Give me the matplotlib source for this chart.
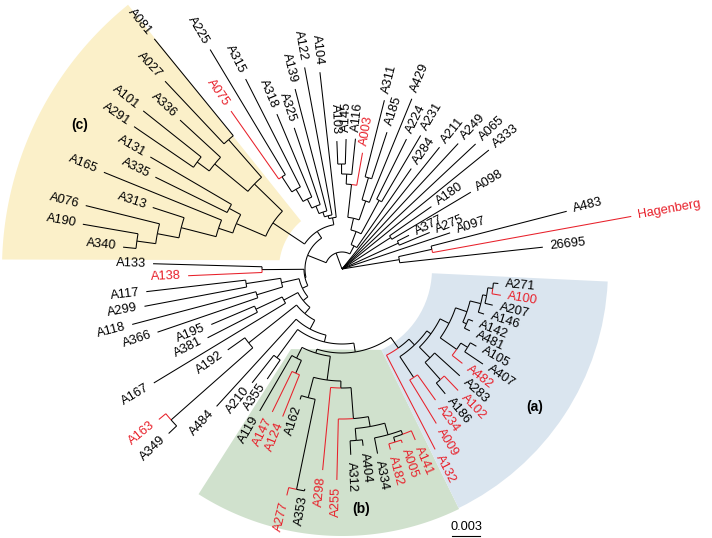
import re

import numpy as np
import matplotlib
matplotlib.use("Agg")
import matplotlib.pyplot as plt
from matplotlib.patches import Polygon, Wedge

# Node depths are distances from the root in tree units (28 units = 0.003 subs/site)
OUTGROUP = "(26695:202,(Hagenberg:294,A483:232):92):58"
BASAL = "A097:114,(A275:95,A377:75):62,(A098:150,A180:109):58,A333:189,A065:183,A249:171,A211:156"
UPPER = ("(A284:122,((A231:155,A224:145):78,((A429:184,(A185:144,A311:174):95):72,"
         "(A003:118,(A116:131,(A145:130,A103:128):105):95):85):52):40):26")
TOP = ("(A104:198,(A122:205,(A139:186,(A325:149,(A318:168,(A315:213,"
       "(A225:256,A075:193):110):92):78):68):60):55):52")
CLADE_C = ("(((A081:297,A027:258):172,(A336:220,(A101:254,A291:252):180):165):122,"
           "((A131:222,A335:208):128,(A165:257,(A313:199,(A076:264,(A190:263,A340:220):207):188):166):130):115):83")
CLADE_B = ("((A119:164,(A147:159,A124:159):114):100,((A162:137,(A277:233,A353:223):225):133,"
           "(A298:202,(A255:211,((A312:186,A404:178):172,(A334:188,((A182:187,A005:184):181,"
           "A141:186):176):172):160):150):119):112):88")
CLADE_A = ("(A132:203,((A009:181,A234:161):130,(((A186:162,A102:168):148,A283:159):125,"
           "((A482:153,(A407:170,A105:155):148):140,((A481:142,A142:141):136,"
           "(A146:149,(A207:155,(A100:161,A271:157):152):147):143):132):120):110):105):97")
LOWER = ("((A133:189,A138:154):80,(((A117:197,A299:201):97,(A118:217,A366:195):89):62,"
         "(((A195:142,A381:151):95,A167:220):66,((A192:140,(A163:237,A349:239):228):119,"
         "(A484:186,((A210:145,A355:133):110,(" + CLADE_B + "," + CLADE_A + "):84):75):68):58):50):44):38")
INGROUP = "(" + UPPER + ",((" + TOP + "," + CLADE_C + "):45," + LOWER + "):37):17"
TREE = "(" + OUTGROUP + "," + BASAL + "," + INGROUP + "):0"

RED_TIPS = ["Hagenberg", "A003", "A075", "A138", "A163", "A147", "A124", "A277", "A298",
            "A255", "A182", "A005", "A141", "A132", "A009", "A234", "A102", "A482", "A100"]

FIRST_ANGLE = 6.2   # degrees, first tip
ANGLE_STEP = 4.1    # degrees between neighbouring tips
LABEL_GAP = 7
SCALE_BAR = 0.003
UNITS_PER_SUB = 28 / 0.003

RED = "#e8202a"
YELLOW = "#fbf0c9"
BLUE = "#dae5ef"
GREEN = "#d0e1cd"


def parse_newick(s):
    pos = 0

    def node():
        nonlocal pos
        children = []
        if s[pos] == "(":
            pos += 1
            children.append(node())
            while s[pos] == ",":
                pos += 1
                children.append(node())
            pos += 1  # ')'
        m = re.match(r"([^:,()]*)(?::([\d.]+))?", s[pos:])
        pos += m.end()
        return {"name": m.group(1), "depth": float(m.group(2) or 0), "children": children}

    return node()


def layout(n, counter):
    if not n["children"]:
        n["angle"] = FIRST_ANGLE + ANGLE_STEP * counter[0]
        counter[0] += 1
        return
    for c in n["children"]:
        layout(c, counter)
    n["angle"] = 0.5 * (n["children"][0]["angle"] + n["children"][-1]["angle"])


def polar(r, deg):
    t = np.deg2rad(deg)
    return r * np.cos(t), r * np.sin(t)


def draw(ax, n):
    for c in n["children"]:
        col = RED if (not c["children"] and c["name"] in RED_TIPS) else "black"
        a = np.linspace(n["angle"], c["angle"], 30)
        ax.plot(*polar(n["depth"], a), color=col, lw=0.75, solid_capstyle="butt")
        ax.plot(*polar(np.array([n["depth"], c["depth"]]), c["angle"]), color=col, lw=0.75,
                solid_capstyle="butt")
        if c["children"]:
            draw(ax, c)
        else:
            th = c["angle"]
            x, y = polar(c["depth"] + LABEL_GAP, th)
            if 90 < th < 270:
                rot, ha = th - 180, "right"
            else:
                rot, ha = th, "left"
            ax.text(x, y, c["name"], rotation=rot, ha=ha, va="center", rotation_mode="anchor",
                    fontsize=9.3, color=col)


def arc_pts(r, a0, a1, n=80):
    a = np.deg2rad(np.linspace(a0, a1, n))
    return np.column_stack([r * np.cos(a), r * np.sin(a)])


def main():
    plt.rcParams["font.family"] = ["Liberation Sans", "DejaVu Sans"]
    fig = plt.figure(figsize=(7.12, 5.38), dpi=100)
    ax = fig.add_axes([0, 0, 1, 1])
    ax.set_xlim(-342, 370)
    ax.set_ylim(-269, 269)
    ax.axis("off")

    # coloured clade backgrounds
    yel = np.vstack([arc_pts(340, 129, 178.4), polar(63, 172), arc_pts(63, 172, 130.5)])
    ax.add_patch(Polygon(yel, closed=True, fc=YELLOW, ec="none", zorder=0))
    grn = np.vstack([arc_pts(267, 237.5, 296), polar(90, 296), polar(95, 237.5)])
    ax.add_patch(Polygon(grn, closed=True, fc=GREEN, ec="none", zorder=0))
    ax.add_patch(Wedge((0, 0), 266, 296, 357.3, width=176, fc=BLUE, ec="none", zorder=0))

    tree = parse_newick(TREE)
    layout(tree, [0])
    draw(ax, tree)

    ax.text(-262, 144, "(c)", fontsize=10, fontweight="bold", ha="center", va="center")
    ax.text(193, -138, "(a)", fontsize=10, fontweight="bold", ha="center", va="center")
    ax.text(19, -240, "(b)", fontsize=10, fontweight="bold", ha="center", va="center")

    # scale bar
    bar = SCALE_BAR * UNITS_PER_SUB
    ax.plot([110, 110 + bar], [-266.5, -266.5], color="black", lw=0.8)
    ax.text(110 + bar / 2, -258, f"{SCALE_BAR:g}", fontsize=9.2, ha="center", va="center")

    fig.savefig("out.png", dpi=100)
    plt.close(fig)


if __name__ == "__main__":
    main()
